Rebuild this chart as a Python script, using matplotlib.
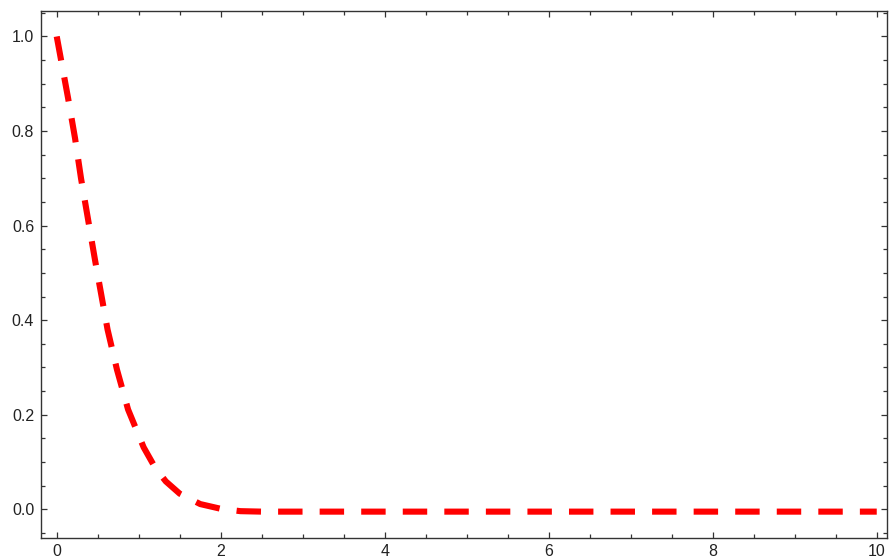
import matplotlib
matplotlib.use("Agg")
import matplotlib.pyplot as plt
from matplotlib.ticker import MultipleLocator
import numpy as np

plt.rcParams['font.family'] = ['Liberation Sans', 'DejaVu Sans']

x_vals = [0.0, 0.138, 0.223, 0.296, 0.382, 0.467, 0.62, 0.735, 0.87, 1.06,
          1.2, 1.33, 1.5, 1.75, 2.0, 2.24, 2.5, 3.0, 4.0, 5.0, 6.0, 7.0, 8.0, 9.0, 10.0]
y_vals = [1.0, 0.870, 0.785, 0.700, 0.613, 0.527, 0.380, 0.295, 0.211, 0.131,
          0.088, 0.059, 0.033, 0.011, 0.001, -0.004, -0.005, -0.005, -0.005, -0.005,
          -0.005, -0.005, -0.005, -0.005, -0.005]
x_ticks = [0, 2, 4, 6, 8, 10]
y_ticks = [0.0, 0.2, 0.4, 0.6, 0.8, 1.0]

fig = plt.figure(figsize=(8.89, 5.6), dpi=100)
ax = fig.add_axes([40.5/889, (560-538.3)/560, (887-40.5)/889, (538.3-10.7)/560])

line, = ax.plot(x_vals, y_vals, color='#ff0000', linewidth=4.4, solid_capstyle='butt',
                dash_capstyle='butt')
line.set_dashes([4.0, 2.8])

ax.set_xlim(-0.198, 10.125)
ax.set_ylim(-0.0614, 1.0545)
ax.set_xticks(x_ticks)
ax.set_xticklabels([str(v) for v in x_ticks])
ax.set_yticks(y_ticks)
ax.set_yticklabels([f"{v:.1f}" for v in y_ticks])
ax.xaxis.set_minor_locator(MultipleLocator(0.5))
ax.yaxis.set_minor_locator(MultipleLocator(0.05))

ax.tick_params(which='both', direction='in', top=True, right=True, colors='#333333',
               labelcolor='#222222', labelsize=11.5, width=0.9)
ax.tick_params(which='major', length=4.6)
ax.tick_params(which='minor', length=2.8)
ax.tick_params(axis='x', pad=4)
ax.tick_params(axis='y', pad=4.5)
for s in ax.spines.values():
    s.set_color('#333333')
    s.set_linewidth(1.0)

fig.savefig('out.png', dpi=100)
